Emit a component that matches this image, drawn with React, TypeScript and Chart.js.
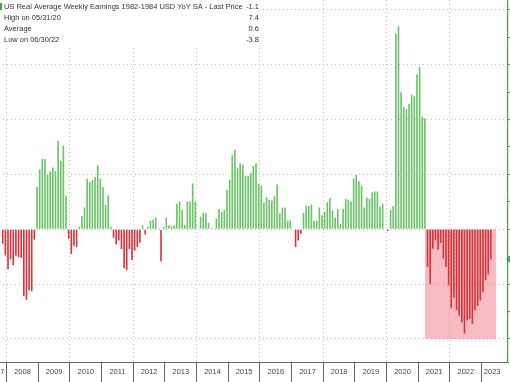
import { useEffect, useRef } from "react";
import { Chart, registerables } from "chart.js";
Chart.register(...registerables);

// ---------- DATA ----------
const YEARS = ["2007","2008","2009","2010","2011","2012","2013","2014","2015","2016","2017","2018","2019","2020","2021","2022","2023"];
const AXIS_START = "2007-01";
const AXIS_END = "2023-10";
const DATA_START = "2007-11";

const earnings2007 = [-0.53, -0.96];
const earnings2008 = [-1.46, -1.09, -1.31, -0.96, -1.02, -1.05, -2.44, -2.57, -2.23, -2.26, -0.38, 1.54];
const earnings2009 = [2.19, 2.56, 2.56, 1.98, 2.12, 2.25, 2.12, 3.23, 2.49, 3.05, 1.22, -0.35];
const earnings2010 = [-0.9, -0.6, -0.65, 0.09, 0.48, 0.8, 1.84, 1.72, 1.79, 1.91, 2.33, 1.84];
const earnings2011 = [1.54, 0.89, 1.23, 0.09, -0.31, -0.56, -0.41, -0.72, -1.42, -1.49, -0.72, -1.12];
const earnings2012 = [-0.78, -0.65, -0.49, 0.15, -0.19, 0.09, 0.31, 0.36, 0.43, 0.03, -1.17, 0.09];
const earnings2013 = [0.42, 0.15, 0.11, 0.15, 0.93, 1.01, 0.7, 0.15, 1.01, 1.01, 1.67, 1.01];
const earnings2014 = [0.02, 0.46, 0.6, 0.58, 0.23, 0.04, 0.03, 0.4, 0.74, 0.64, 0.7, 1.44];
const earnings2015 = [1.81, 2.7, 2.9, 2.25, 2.41, 2.35, 1.94, 1.94, 2.06, 2.31, 2.41, 1.67];
const earnings2016 = [1.59, 0.98, 1.17, 1.07, 1.05, 1.22, 1.63, 0.58, 0.79, 0.79, 0.31, 0.33];
const earnings2017 = [0.02, -0.65, -0.41, -0.16, 0.6, 0.85, 0.85, 0.9, 0.31, 0.3, 0.8, 0.52];
const earnings2018 = [0.64, 0.98, 1.14, 0.68, 0.43, 0.73, 0.19, 0.75, 1.1, 1.07, 1.01, 1.85];
const earnings2019 = [1.98, 1.75, 1.59, 0.8, 1.16, 1.11, 1.35, 1.38, 1.38, 0.83, 0.93, 0.02];
const earnings2020 = [-0.06, 0.7, 0.85, 7.14, 7.4, 5.0, 4.46, 4.38, 4.58, 4.91, 4.85, 5.64];
const earnings2021 = [5.92, 4.11, 4.05, -1.38, -2.0, -0.71, -0.4, -0.75, -0.5, -1.07, -1.38, -2.05];
const earnings2022 = [-2.87, -2.5, -2.95, -3.15, -3.4, -3.8, -3.33, -3.27, -3.45, -2.95, -2.8, -2.6];
const earnings2023 = [-2.3, -1.85, -1.65, -1.1];

const SERIES_NAME = "US Real Average Weekly Earnings 1982-1984 USD YoY SA - Last Price";
const LAST_PRICE = "-1.1";
const HIGH_LABEL = "High on 05/31/20";
const HIGH_VALUE = "7.4";
const AVG_LABEL = "Average";
const AVG_VALUE = "0.6";
const LOW_LABEL = "Low on 06/30/22";
const LOW_VALUE = "-3.8";

const SHADE_FROM = "2021-03";
const SHADE_TO = "2023-06";
const SHADE_LOW = -4;
const SHADE_HIGH = 0;

const Y_MIN = -4.84;
const Y_MAX = 8.36;

// ---------- build ----------
function monthRange(from: string, to: string): string[] {
  const out: string[] = [];
  let [y, m] = from.split("-").map(Number);
  const [ty, tm] = to.split("-").map(Number);
  while (y < ty || (y === ty && m <= tm)) {
    out.push(`${y}-${String(m).padStart(2, "0")}`);
    m++;
    if (m > 12) { m = 1; y++; }
  }
  return out;
}

const months = monthRange(AXIS_START, AXIS_END);
const allValues = [
  ...earnings2007, ...earnings2008, ...earnings2009, ...earnings2010, ...earnings2011,
  ...earnings2012, ...earnings2013, ...earnings2014, ...earnings2015, ...earnings2016,
  ...earnings2017, ...earnings2018, ...earnings2019, ...earnings2020, ...earnings2021,
  ...earnings2022, ...earnings2023,
];
const startIdx = months.indexOf(DATA_START);
const series: (number | null)[] = months.map((_, i) => {
  const j = i - startIdx;
  return j >= 0 && j < allValues.length ? allValues[j] : null;
});
const lastIdx = startIdx + allValues.length - 1;

function yearLabelMonth(year: string) {
  if (year === YEARS[YEARS.length - 1]) return "05";
  if (year === YEARS[0]) return "09";
  return "07";
}

export default function App() {
  const ref = useRef<HTMLCanvasElement>(null);
  useEffect(() => {
    if (!ref.current) return;
    const FONT = "'Liberation Sans', Arial, sans-serif";
    const overlay = {
      id: "overlay",
      beforeDatasetsDraw(chart: any) {
        const { ctx, scales } = chart;
        const xs = scales.x, ys = scales.y;
        const x1 = xs.getPixelForValue(months.indexOf(SHADE_FROM));
        const x2 = xs.getPixelForValue(months.indexOf(SHADE_TO));
        const y1 = ys.getPixelForValue(SHADE_HIGH);
        const y2 = ys.getPixelForValue(SHADE_LOW);
        ctx.save();
        ctx.fillStyle = "rgba(240,105,120,0.45)";
        ctx.fillRect(x1, y1, x2 - x1, y2 - y1);
        ctx.restore();
      },
      afterDraw(chart: any) {
        const { ctx, scales, chartArea } = chart;
        const ys = scales.y;
        ctx.save();
        // last price arrow
        const yl = ys.getPixelForValue(series[lastIdx] as number);
        const xr = chartArea.right;
        ctx.fillStyle = "#3aa845";
        ctx.beginPath();
        ctx.moveTo(xr - 2, yl);
        ctx.lineTo(xr + 3, yl - 4);
        ctx.lineTo(xr + 3, yl + 4);
        ctx.closePath();
        ctx.fill();
        // legend
        const off = -chart.canvas.getBoundingClientRect().left; // page x=0 in canvas coords
        const lx = off;
        const boxTop = 0, lineH = 11;
        ctx.font = `8px ${FONT}`;
        const w8 = ctx.measureText(SERIES_NAME).width;
        const fs = 8 * 239 / w8;
        ctx.fillStyle = "#ffffff";
        ctx.fillRect(lx, boxTop, 262, lineH * 4 + 1);
        ctx.fillStyle = "#3aa845";
        ctx.fillRect(lx, boxTop + 3, 2, 7);
        ctx.font = `${fs}px ${FONT}`;
        ctx.fillStyle = "#333";
        ctx.textBaseline = "middle";
        const rows = [[SERIES_NAME, LAST_PRICE], [HIGH_LABEL, HIGH_VALUE], [AVG_LABEL, AVG_VALUE], [LOW_LABEL, LOW_VALUE]];
        rows.forEach(([a, b], i) => {
          const y = boxTop + 6.5 + i * lineH;
          ctx.textAlign = "left";
          ctx.fillText(a, lx + 4, y);
          ctx.textAlign = "right";
          ctx.fillText(b, lx + 259, y);
        });
        ctx.restore();
      },
    };

    const chart = new Chart(ref.current, {
      type: "bar",
      data: {
        labels: months,
        datasets: [{
          data: series,
          backgroundColor: (c: any) => (c.raw ?? 0) >= 0 ? "#6cc368" : "#d3363c",
          borderWidth: 0,
          barPercentage: 0.62,
          categoryPercentage: 1,
        }],
      },
      options: {
        animation: false,
        responsive: true,
        maintainAspectRatio: false,
        layout: { padding: 0 },
        plugins: { legend: { display: false }, tooltip: { enabled: false }, title: { display: false } },
        scales: {
          x: {
            type: "category",
            offset: true,
            grid: {
              offset: true,
              drawTicks: true,
              tickLength: 20,
              lineWidth: 1,
              color: (c: any) => {
                const m = months[c.index];
                if (!m) return "rgba(0,0,0,0)";
                const [y, mm] = m.split("-").map(Number);
                return mm === 1 && y % 2 === 0 ? "#bdbdbd" : "rgba(0,0,0,0)";
              },
              tickColor: (c: any) => {
                const m = months[c.index];
                if (!m) return "rgba(0,0,0,0)";
                return m.endsWith("-01") ? "#666" : "rgba(0,0,0,0)";
              },
              tickBorderDash: [],
            },
            border: { display: true, color: "#666", width: 1, dash: [1, 3] },
            ticks: {
              autoSkip: false,
              maxRotation: 0,
              minRotation: 0,
              padding: -15,
              labelOffset: -1.3,
              color: "#444",
              font: { size: 7.5, family: FONT },
              callback: (_v: any, i: number) => {
                const m = months[i];
                const [y, mm] = m.split("-");
                return YEARS.includes(y) && mm === yearLabelMonth(y) ? y : "";
              },
            },
            afterFit: (s: any) => { s.height = 20; },
          },
          y: {
            type: "linear",
            position: "right",
            min: Y_MIN,
            max: Y_MAX,
            grid: {
              drawTicks: true,
              tickLength: 4,
              color: (c: any) => {
                const v = c.tick?.value;
                return v !== undefined && Math.abs(v % 2) < 1e-6 ? "#bdbdbd" : "rgba(0,0,0,0)";
              },
              tickColor: "#3aa845",
              tickBorderDash: [],
            },
            border: { display: true, color: "#3aa845", width: 1.2, dash: [1, 3] },
            ticks: { display: false, stepSize: 1, includeBounds: false },
            afterFit: (s: any) => { s.width = 6; },
          },
        },
      },
      plugins: [overlay],
    });
    return () => chart.destroy();
  }, []);

  return (
    <div style={{ position: "fixed", left: 0, top: 0, width: 510, height: 382, overflow: "hidden", background: "#fff" }}>
      <div style={{ position: "absolute", left: -25, top: 0, width: 539, height: 382 }}>
        <canvas ref={ref} />
      </div>
    </div>
  );
}
